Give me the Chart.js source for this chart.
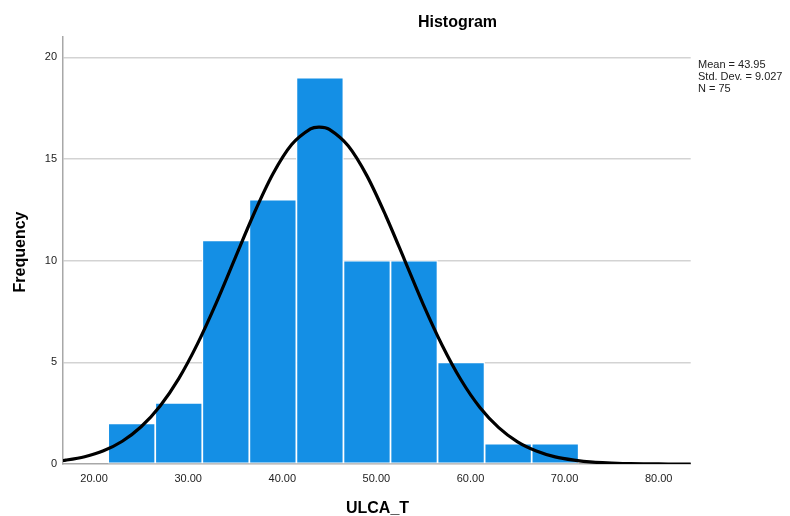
<!DOCTYPE html>
<html>
<head>
<meta charset="utf-8">
<script src="https://cdn.jsdelivr.net/npm/chart.js@4.4.1/dist/chart.umd.min.js"></script>
<style>
html,body{margin:0;padding:0;background:#fff;}
#wrap{width:790px;height:516px;position:relative;}
</style>
</head>
<body>
<div id="wrap"><canvas id="c" width="790" height="516"></canvas></div>
<script>
// Histogram bins (centers, width 5) and frequencies
const binCenters = [24, 29, 34, 39, 44, 49, 54, 59, 64, 69];
const frequencies = [2, 3, 11, 13, 19, 10, 10, 5, 1, 1];

// Normal curve
const curveX = [16, 17, 19, 21, 23, 25, 27, 29, 31, 33, 35, 37, 39, 41, 43, 43.95, 45, 47, 49, 51, 53, 55, 57, 59, 61, 63, 65, 67, 69, 71, 73, 75, 77, 79, 81, 83, 85];
const curveY = [0.14, 0.19, 0.36, 0.65, 1.12, 1.83, 2.84, 4.20, 5.92, 7.94, 10.14, 12.32, 14.26, 15.71, 16.48, 16.57, 16.46, 15.65, 14.17, 12.21, 10.03, 7.83, 5.83, 4.13, 2.78, 1.79, 1.09, 0.64, 0.35, 0.19, 0.09, 0.05, 0.02, 0.01, 0.00, 0.00, 0.00];

const xTickValues = [20, 30, 40, 50, 60, 70, 80];
const yTickValues = [0, 5, 10, 15, 20];

const statsLines = ['Mean = 43.95', 'Std. Dev. = 9.027', 'N = 75'];
const titleText = 'Histogram';
const xTitle = 'ULCA_T';
const yTitle = 'Frequency';

const FONT = "'Liberation Sans', Arial, sans-serif";

const textPlugin = {
  id: 'texts',
  afterDraw(chart) {
    const ctx = chart.ctx;
    ctx.save();
    ctx.fillStyle = '#000';
    ctx.font = "bold 16px " + FONT;
    ctx.textAlign = 'center';
    ctx.textBaseline = 'alphabetic';
    ctx.fillText(titleText, 457.5, 27);
    ctx.fillText(xTitle, 377.5, 513);
    ctx.save();
    ctx.translate(25, 252);
    ctx.rotate(-Math.PI / 2);
    ctx.fillText(yTitle, 0, 0);
    ctx.restore();
    ctx.font = "11px " + FONT;
    ctx.textAlign = 'left';
    ctx.fillStyle = '#222';
    statsLines.forEach((s, i) => ctx.fillText(s, 698, 67.5 + i * 12));
    ctx.restore();
  }
};

new Chart(document.getElementById('c'), {
  type: 'bar',
  data: {
    datasets: [
      {
        type: 'line',
        data: curveX.map((x, i) => ({x: x, y: curveY[i]})),
        borderColor: '#000',
        borderWidth: 3.2,
        pointRadius: 0,
        tension: 0.3,
        fill: false,
        order: 0
      },
      {
        type: 'bar',
        data: binCenters.map((x, i) => ({x: x, y: frequencies[i]})),
        backgroundColor: 'rgb(20,143,229)',
        borderColor: '#ffffff',
        borderWidth: 1.2,
        borderSkipped: false,
        barPercentage: 1,
        categoryPercentage: 1,
        order: 1
      }
    ]
  },
  options: {
    responsive: false,
    animation: false,
    layout: { padding: { top: 37, right: 99.3, left: 0, bottom: 0 } },
    plugins: { legend: { display: false }, tooltip: { enabled: false }, title: { display: false } },
    scales: {
      x: {
        type: 'linear',
        min: 16.7,
        max: 83.4,
        offset: false,
        afterFit: s => { s.height = 52; },
        afterBuildTicks: s => { s.ticks = xTickValues.map(v => ({value: v})); },
        grid: { display: false, drawTicks: false },
        border: { display: true, color: '#a8a8a8', width: 1.5 },
        ticks: {
          autoSkip: false,
          maxRotation: 0,
          padding: 8,
          color: '#222',
          font: { family: FONT, size: 11 },
          callback: v => Number(v).toFixed(2)
        }
      },
      y: {
        min: 0,
        max: 21,
        afterFit: s => { s.width = 63; },
        afterBuildTicks: s => { s.ticks = yTickValues.map(v => ({value: v})); },
        grid: {
          drawTicks: false,
          color: ctx => ctx.tick && ctx.tick.value === 0 ? 'rgba(0,0,0,0)' : '#d3d3d3',
          lineWidth: 1.5
        },
        border: { display: true, color: '#a8a8a8', width: 1.5 },
        ticks: {
          padding: 6,
          color: '#222',
          font: { family: FONT, size: 11 },
          callback: v => String(v)
        }
      }
    }
  },
  plugins: [textPlugin]
});
</script>
</body>
</html>
